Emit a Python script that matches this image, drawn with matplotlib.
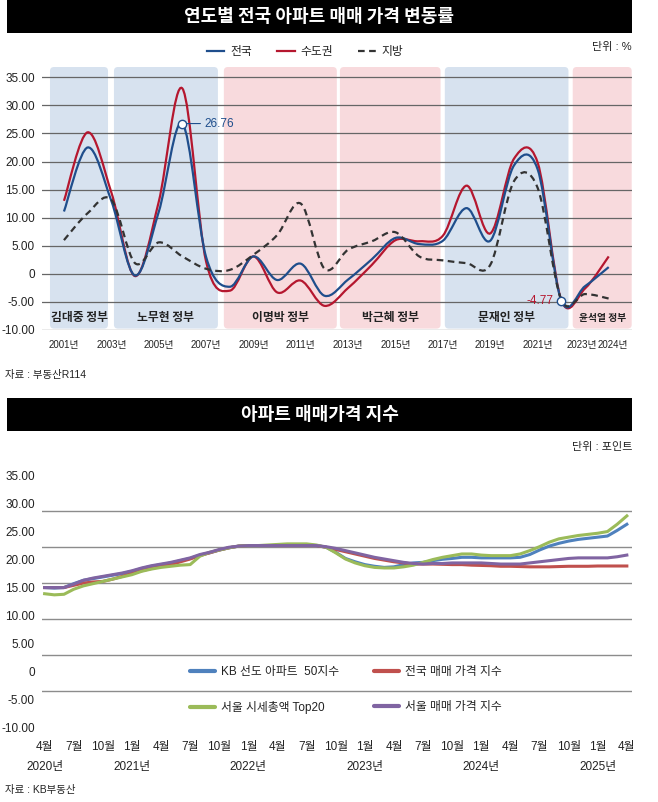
import numpy as np
import matplotlib
matplotlib.use('Agg')
import matplotlib.pyplot as plt
from matplotlib import font_manager
from matplotlib.path import Path
from matplotlib.patches import PathPatch, FancyBboxPatch, Rectangle
from matplotlib.lines import Line2D

W, H = 658, 802


def has_font(name):
    try:
        font_manager.findfont(name, fallback_to_default=False)
        return True
    except ValueError:
        return False


KR = 'Noto Sans CJK KR'
if has_font('Liberation Sans Narrow'):
    NUM, nsc = 'Liberation Sans Narrow', 1.0
else:
    NUM, nsc = 'Liberation Sans', 0.85
MIX = [NUM, KR]
plt.rcParams['font.family'] = MIX
plt.rcParams['axes.unicode_minus'] = False

# ---- top chart data: yearly change (%) ----
years = list(range(2001, 2025))
nation = [11.1, 22.5, 13.0, -0.3, 11.0, 26.76, 3.0, -2.3, 3.1, -1.1, 1.8, -3.9,
          -1.0, 2.6, 6.4, 5.3, 5.9, 11.7, 5.9, 19.3, 18.6, -4.77, -2.2, 1.2]
capital = [13.0, 25.2, 14.5, -0.4, 12.8, 33.0, 2.2, -3.0, 3.1, -3.3, -1.2, -5.7,
           -2.5, 1.6, 6.0, 5.8, 6.8, 15.7, 7.2, 20.5, 19.8, -4.7, -2.6, 3.1]
regional = [6.0, 10.8, 13.2, 1.9, 5.6, 3.1, 0.9, 0.7, 3.4, 6.9, 12.5, 0.9,
            4.3, 5.8, 7.4, 3.1, 2.4, 1.9, 1.6, 16.5, 15.3, -4.6, -3.6, -4.4]

gov_names = ['김대중 정부', '노무현 정부', '이명박 정부', '박근혜 정부', '문재인 정부', '윤석열 정부']
gov_start = [2000.41, 2003.11, 2007.75, 2012.65, 2017.08, 2022.48]
gov_end = [2002.86, 2007.50, 2012.52, 2016.90, 2022.30, 2024.97]
gov_side = ['b', 'b', 'p', 'p', 'b', 'p']

# ---- bottom chart data: monthly index, 2020-04 .. 2025-04 ----
kb50 = [14.9, 14.8, 14.9, 15.6, 16.2, 16.5, 16.8, 17.1, 17.4, 17.8,
        18.3, 18.7, 19.0, 19.3, 19.7, 20.1, 20.7, 21.1, 21.6, 22.0,
        22.3, 22.4, 22.4, 22.4, 22.4, 22.5, 22.5, 22.5, 22.4, 22.1,
        21.2, 20.1, 19.5, 19.0, 18.7, 18.5, 18.6, 19.0, 19.3, 19.4,
        19.7, 19.95, 20.1, 20.3, 20.3, 20.2, 20.2, 20.2, 20.2, 20.3,
        20.8, 21.6, 22.3, 22.8, 23.2, 23.5, 23.7, 23.9, 24.1, 25.1, 26.2]
nation_idx = [14.9, 14.9, 14.9, 15.3, 15.7, 15.9, 16.0, 16.4, 16.9, 17.4,
              17.9, 18.3, 18.7, 19.0, 19.5, 20.0, 20.6, 21.1, 21.6, 22.0,
              22.3, 22.4, 22.4, 22.4, 22.4, 22.4, 22.4, 22.4, 22.4, 22.1,
              21.7, 21.3, 20.9, 20.5, 20.1, 19.8, 19.5, 19.3, 19.1, 19.1,
              19.1, 19.05, 19.0, 19.0, 18.9, 18.85, 18.8, 18.7, 18.7, 18.65,
              18.6, 18.6, 18.6, 18.65, 18.7, 18.7, 18.7, 18.75, 18.75, 18.75, 18.75]
top20 = [13.8, 13.6, 13.7, 14.6, 15.2, 15.6, 16.0, 16.4, 16.8, 17.2,
         17.8, 18.2, 18.5, 18.7, 18.9, 19.0, 20.5, 21.2, 21.6, 22.0,
         22.3, 22.4, 22.4, 22.5, 22.6, 22.7, 22.7, 22.7, 22.5, 22.1,
         21.1, 20.0, 19.3, 18.8, 18.5, 18.4, 18.4, 18.6, 18.9, 19.4,
         19.9, 20.3, 20.6, 20.9, 20.9, 20.7, 20.6, 20.6, 20.6, 20.9,
         21.5, 22.2, 23.0, 23.6, 23.9, 24.2, 24.4, 24.6, 24.9, 26.2, 27.7]
seoul_idx = [14.9, 14.9, 14.9, 15.5, 16.2, 16.6, 16.9, 17.2, 17.5, 17.9,
             18.4, 18.8, 19.1, 19.4, 19.8, 20.2, 20.8, 21.2, 21.7, 22.1,
             22.3, 22.4, 22.4, 22.4, 22.4, 22.4, 22.4, 22.4, 22.4, 22.2,
             21.9, 21.5, 21.1, 20.7, 20.3, 20.0, 19.7, 19.4, 19.2, 19.1,
             19.2, 19.2, 19.3, 19.3, 19.3, 19.3, 19.2, 19.1, 19.1, 19.1,
             19.3, 19.5, 19.7, 19.9, 20.1, 20.2, 20.2, 20.2, 20.2, 20.4, 20.7]
bottom_names = ['KB 선도 아파트  50지수', '전국 매매 가격 지수',
                '서울 시세총액 Top20', '서울 매매 가격 지수']

BLUE, RED, DASH = '#1f4e8c', '#b5172f', '#333333'
BAND = {'b': '#d7e2ef', 'p': '#f8dadd'}
XL_COLORS = ['#4f81bd', '#c0504d', '#9bbb59', '#8064a2']
TXT = '#222222'


def smooth_path(x, y):
    """Catmull-Rom curve through the points, as cubic bezier segments."""
    px = np.concatenate([[x[0]], x, [x[-1]]]).astype(float)
    py = np.concatenate([[y[0]], y, [y[-1]]]).astype(float)
    verts = [(px[1], py[1])]
    codes = [Path.MOVETO]
    for i in range(1, len(px) - 2):
        c1 = (px[i] + (px[i + 1] - px[i - 1]) / 6, py[i] + (py[i + 1] - py[i - 1]) / 6)
        c2 = (px[i + 1] - (px[i + 2] - px[i]) / 6, py[i + 1] - (py[i + 2] - py[i]) / 6)
        verts += [c1, c2, (px[i + 1], py[i + 1])]
        codes += [Path.CURVE4] * 3
    return Path(verts, codes)


def fmt(v):
    return '0' if v == 0 else '%.2f' % v


def title_bar(y0, y1, text):
    fig.add_artist(Rectangle((7 / W, 1 - y1 / H), 625 / W, (y1 - y0) / H,
                             transform=fig.transFigure, color='black', lw=0))
    fig.text(319.5 / W, 1 - (y0 + y1) / 2 / H, text, color='white', fontsize=13,
             fontweight='bold', family=KR, ha='center', va='center')


fig = plt.figure(figsize=(W / 100, H / 100), dpi=100)

# ================= top chart =================
title_bar(0, 33, '연도별 전국 아파트 매매 가격 변동률')

ax1 = fig.add_axes([41.7 / W, 1 - 330 / H, 590 / W, 263 / H])
ax1.set_xlim(2000.06, 2024.97)
ax1.set_ylim(-10, 36.83)

for name, s, e, side in zip(gov_names, gov_start, gov_end, gov_side):
    band = FancyBboxPatch((s, -9.75), e - s, 46.58,
                          boxstyle='round,pad=0,rounding_size=0.17',
                          mutation_aspect=4.22, fc=BAND[side], ec='none', zorder=1)
    ax1.add_patch(band)
    ax1.text((s + e) / 2, -7.8, name, ha='center', va='center', family=KR,
             fontsize=7 if name.startswith('윤') else 8.5, fontweight='bold',
             color=TXT, zorder=4)

ax1.set_yticks(np.arange(-10, 36, 5))
ax1.set_yticklabels([fmt(v) for v in np.arange(-10, 36, 5)])
ax1.grid(axis='y', color='#666666', lw=0.9)
tick_years = [2001, 2003, 2005, 2007, 2009, 2011, 2013, 2015, 2017, 2019, 2021, 2023, 2024]
# nudge the last two labels apart so they sit side by side
tick_pos = [y - 0.13 if y == 2023 else (y + 0.17 if y == 2024 else y) for y in tick_years]
ax1.set_xticks(tick_pos)
ax1.set_xticklabels(['%d년' % y for y in tick_years])
ax1.tick_params(axis='y', length=0, pad=5, labelsize=10 * nsc, labelcolor=TXT)
ax1.tick_params(axis='x', length=0, pad=7, labelsize=7, labelcolor=TXT)
for sp in ax1.spines.values():
    sp.set_visible(False)

for vals, col, ls in [(capital, RED, '-'), (nation, BLUE, '-'), (regional, DASH, (0, (3, 2)))]:
    ax1.add_patch(PathPatch(smooth_path(years, vals), fill=False, ec=col, lw=1.6,
                            ls=ls, zorder=3, capstyle='butt'))

i06 = years.index(2006)
ax1.plot(years[i06], nation[i06], 'o', ms=6, mfc='white', mec=BLUE, mew=1.0, zorder=5)
ax1.annotate('%.2f' % nation[i06], xy=(years[i06], nation[i06]), xytext=(16, 0),
             textcoords='offset points', ha='left', va='center', color=BLUE,
             fontsize=10 * nsc, family=NUM,
             arrowprops=dict(arrowstyle='-', color=BLUE, lw=0.8, shrinkA=1, shrinkB=3))
i22 = years.index(2022)
ax1.plot(years[i22], nation[i22], 'o', ms=6, mfc='white', mec=BLUE, mew=1.0, zorder=5)
ax1.annotate('%.2f' % nation[i22], xy=(years[i22], nation[i22]), xytext=(-6, 0),
             textcoords='offset points', ha='right', va='center', color=RED,
             fontsize=10 * nsc, family=NUM)

top_handles = [Line2D([], [], color=BLUE, lw=1.6), Line2D([], [], color=RED, lw=1.6),
               Line2D([], [], color=DASH, lw=1.6, ls=(0, (3, 2)))]
fig.legend(top_handles, ['전국', '수도권', '지방'], loc='center',
           bbox_to_anchor=(305 / W, 1 - 52 / H), ncol=3, frameon=False,
           fontsize=8.5, handlelength=1.5, handletextpad=0.5, columnspacing=2.1,
           labelcolor=TXT)
fig.text(632 / W, 1 - 47 / H, '단위 : %', ha='right', va='center', fontsize=8, color=TXT)
fig.text(5 / W, 1 - 375 / H, '자료 : 부동산R114', ha='left', va='center', fontsize=7.5, color=TXT)

# ================= bottom chart =================
title_bar(398, 431, '아파트 매매가격 지수')
fig.text(632 / W, 1 - 447 / H, '단위 : 포인트', ha='right', va='center', fontsize=8, color=TXT)

ax2 = fig.add_axes([41.7 / W, 1 - 727 / H, 590 / W, 252 / H])
months = np.arange(len(kb50))
ax2.set_xlim(-0.3, 60.5)
ax2.set_ylim(-10, 35)
ax2.set_yticks(np.arange(-10, 36, 5))
ax2.set_yticklabels([fmt(v) for v in np.arange(-10, 36, 5)])
ax2.set_yticks(np.linspace(-10, 35, 8), minor=True)
ax2.grid(axis='y', which='minor', color='#8c8c8c', lw=1.0)
ax2.grid(axis='y', which='major', visible=False)

tick_m = months[::3]
labels = []
for m in tick_m:
    mo = (3 + m) % 12 + 1
    yr = 2020 + (3 + m) // 12
    lab = '%d월' % mo
    if m == 0 or mo == 1:
        lab += '\n%d년' % yr
    labels.append(lab)
ax2.set_xticks(tick_m)
ax2.set_xticklabels(labels)
for lbl in ax2.get_xticklabels():
    lbl.set_linespacing(1.9)
ax2.tick_params(which='both', length=0)
ax2.tick_params(axis='y', pad=5, labelsize=10 * nsc, labelcolor=TXT)
ax2.tick_params(axis='x', pad=10, labelsize=8.5, labelcolor=TXT)
for sp in ax2.spines.values():
    sp.set_visible(False)

series = [kb50, nation_idx, top20, seoul_idx]
for vals, col in zip(series, XL_COLORS):
    ax2.plot(months, vals, color=col, lw=2.2, zorder=3)

leg_h = [Line2D([], [], color=c, lw=3, solid_capstyle='round') for c in XL_COLORS]
order = [0, 2, 1, 3]
fig.legend([leg_h[i] for i in order], [bottom_names[i] for i in order], loc='center',
           bbox_to_anchor=(346 / W, 1 - 690 / H), ncol=2, frameon=False,
           fontsize=8.5, handlelength=2.1, handletextpad=0.5, columnspacing=3.0,
           labelspacing=1.9, labelcolor=TXT)

fig.text(5 / W, 1 - 790 / H, '자료 : KB부동산', ha='left', va='center', fontsize=7.5, color=TXT)

fig.savefig('out.png', dpi=100)
